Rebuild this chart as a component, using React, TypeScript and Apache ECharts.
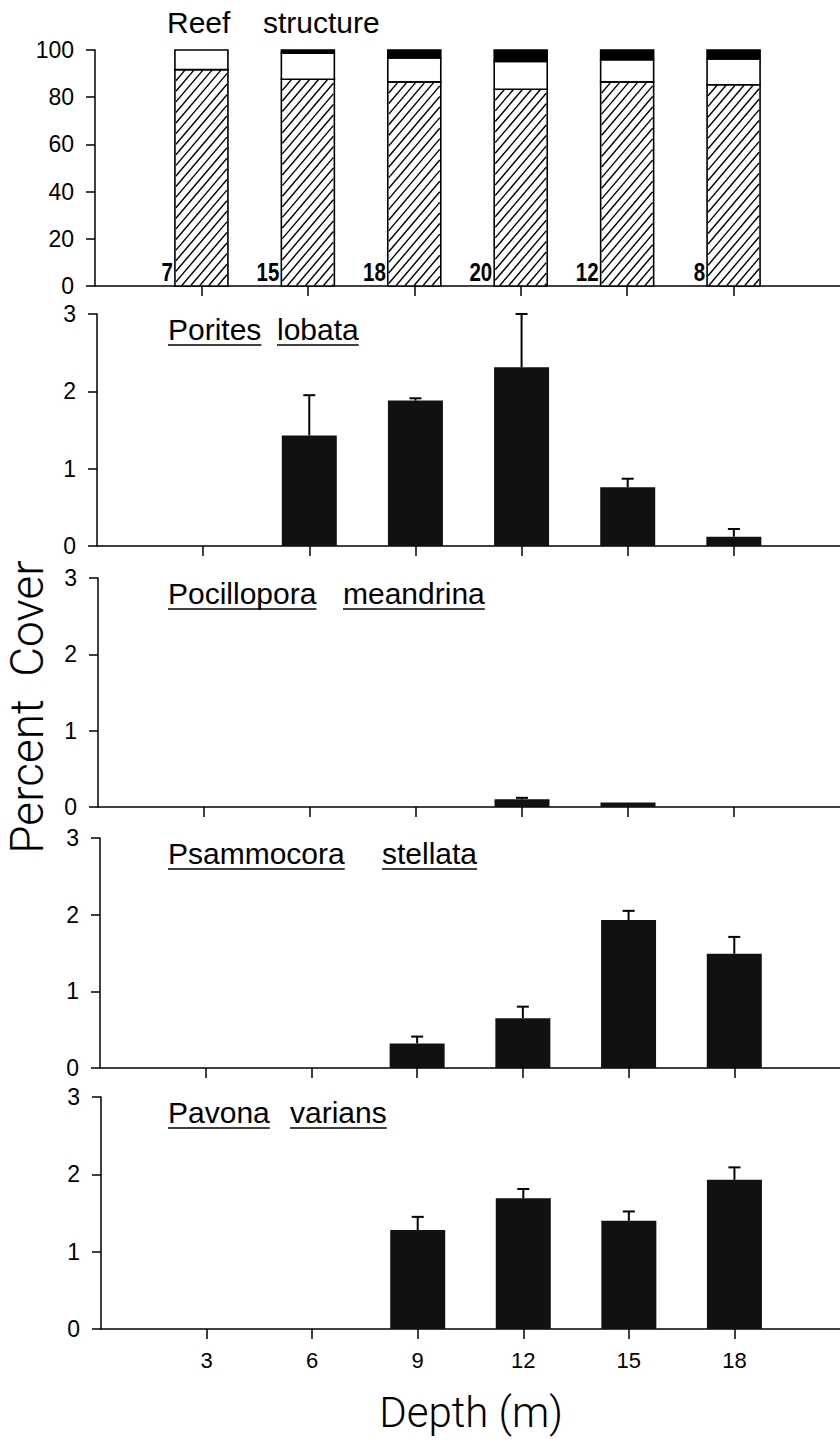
import React, { useEffect, useRef } from "react";
import * as echarts from "echarts";

// ---------- data ----------
const depths = [3, 6, 9, 12, 15, 18];
const depthTicks = [3, 6, 9, 12, 15, 18];

// Reef structure (% of transect): hatched / white / black segments
const reefHatched = [91.7, 87.6, 86.5, 83.4, 86.5, 85.3];
const reefWhite = [8.3, 11.0, 10.1, 11.7, 9.4, 10.9];
const reefBlack = [0, 1.4, 3.4, 4.9, 4.1, 3.8];
const reefN = [7, 15, 18, 20, 12, 8];

// species percent cover, mean and standard error
const poritesMean = [0, 1.43, 1.88, 2.31, 0.76, 0.12];
const poritesSE = [0, 0.52, 0.03, 0.69, 0.11, 0.1];
const pocilloporaMean = [0, 0, 0, 0.1, 0.06, 0];
const pocilloporaSE = [0, 0, 0, 0.02, 0, 0];
const psammocoraMean = [0, 0, 0.32, 0.65, 1.93, 1.49];
const psammocoraSE = [0, 0, 0.09, 0.15, 0.12, 0.22];
const pavonaMean = [0, 0, 1.28, 1.69, 1.4, 1.93];
const pavonaSE = [0, 0, 0.17, 0.12, 0.12, 0.16];

const speciesTitles = [
  ["Porites", "lobata"],
  ["Pocillopora", "meandrina"],
  ["Psammocora", "stellata"],
  ["Pavona", "varians"],
];
const reefTitle = ["Reef", "structure"];
const yAxisTitle = "Percent  Cover";
const xAxisTitle = "Depth (m)";

// ---------- layout ----------
const W = 840;
const H = 1445;
const PANELS = [
  { top: 50, bottom: 286, left: 95 },
  { top: 314, bottom: 546, left: 97 },
  { top: 578, bottom: 807, left: 98 },
  { top: 838, bottom: 1068, left: 100 },
  { top: 1097, bottom: 1329, left: 101 },
];
const TITLE_X1 = 168;
const TITLE_X2 = [277, 343, 382, 290];
const FONT = '"Liberation Sans", Arial, Helvetica, sans-serif';
const TITLE_FS = 30;
const REEF_BAR_W = 53;
const SPECIES_BAR_W = 55;

function measure(text: string, font: string): number {
  const c = document.createElement("canvas");
  const ctx = c.getContext("2d");
  if (!ctx) return text.length * 15;
  ctx.font = font;
  return ctx.measureText(text).width;
}

export default function App() {
  const ref = useRef<HTMLDivElement>(null);

  useEffect(() => {
    document.body.style.margin = "0";
    document.body.style.overflow = "hidden";
    if (!ref.current) return;
    const chart = echarts.init(ref.current, undefined, { renderer: "svg" });

    const grids = PANELS.map((p) => ({
      left: p.left,
      top: p.top,
      width: W - p.left,
      height: p.bottom - p.top,
      containLabel: false,
      outerBoundsMode: "none",
    }));

    const axisLine = { show: true, onZero: false, lineStyle: { color: "#000", width: 1.5 } };

    const xAxes = PANELS.map((_, i) => ({
      gridIndex: i,
      type: "value",
      min: 0,
      max: 21,
      interval: 3,
      axisLine,
      axisTick: {
        show: true,
        inside: false,
        length: 10,
        customValues: depthTicks,
        lineStyle: { color: "#000", width: 1.5 },
      },
      axisLabel: {
        show: i === 4,
        customValues: depthTicks,
        margin: 20,
        color: "#000",
        fontSize: 22,
        fontFamily: FONT,
      },
      splitLine: { show: false },
    }));

    const yAxes = PANELS.map((_, i) => ({
      gridIndex: i,
      type: "value",
      min: 0,
      max: i === 0 ? 100 : 3,
      interval: i === 0 ? 20 : 1,
      axisLine,
      axisTick: { show: true, inside: false, length: 9, lineStyle: { color: "#000", width: 1.5 } },
      axisLabel: { margin: 21, color: "#000", fontSize: 23, fontFamily: FONT },
      splitLine: { show: false },
    }));

    const series: any[] = [];

    // Reef structure: stacked segments drawn through the axis scales
    series.push({
      type: "custom",
      xAxisIndex: 0,
      yAxisIndex: 0,
      silent: true,
      z: 3,
      data: depths.map((d, i) => [d, reefHatched[i], reefWhite[i], reefBlack[i]]),
      encode: { x: 0, y: 1 },
      renderItem: (params: any, api: any) => {
        const x = api.value(0);
        const vh = api.value(1);
        const vw = api.value(2);
        const vb = api.value(3);
        const p0 = api.coord([x, 0]);
        const p1 = api.coord([x, vh]);
        const p2 = api.coord([x, vh + vw]);
        const p3 = api.coord([x, vh + vw + vb]);
        const half = REEF_BAR_W / 2;
        const left = p0[0] - half;
        const children: any[] = [];
        children.push({
          type: "rect",
          shape: { x: left, y: p1[1], width: REEF_BAR_W, height: p0[1] - p1[1] },
          style: { fill: "#fff", stroke: "none" },
        });
        // hatching
        const x0 = left + 1;
        const x1 = left + REEF_BAR_W - 1;
        const yb = p0[1] - 0.5;
        const h = yb - (p1[1] + 0.5);
        const t = 0.85;
        const sp = 9;
        for (let c = x0 - h * t; c < x1; c += sp) {
          const u0 = Math.max(0, (x0 - c) / t);
          const u1 = Math.min(h, (x1 - c) / t);
          if (u1 > u0) {
            children.push({
              type: "line",
              shape: { x1: c + u0 * t, y1: yb - u0, x2: c + u1 * t, y2: yb - u1 },
              style: { stroke: "#000", lineWidth: 1.4 },
            });
          }
        }
        children.push({
          type: "rect",
          shape: { x: left, y: p1[1], width: REEF_BAR_W, height: p0[1] - p1[1] },
          style: { fill: "none", stroke: "#000", lineWidth: 1.6 },
        });
        children.push({
          type: "rect",
          shape: { x: left, y: p2[1], width: REEF_BAR_W, height: p1[1] - p2[1] },
          style: { fill: "#fff", stroke: "#000", lineWidth: 1.6 },
        });
        if (vb > 0) {
          children.push({
            type: "rect",
            shape: { x: left, y: p3[1], width: REEF_BAR_W, height: p2[1] - p3[1] },
            style: { fill: "#000", stroke: "#000", lineWidth: 1.6 },
          });
        }
        return { type: "group", children };
      },
    });
    // sample sizes
    series.push({
      type: "custom",
      xAxisIndex: 0,
      yAxisIndex: 0,
      silent: true,
      z: 4,
      data: depths.map((d, i) => [d, reefN[i]]),
      renderItem: (params: any, api: any) => {
        const x = api.value(0);
        const n = api.value(1);
        const p = api.coord([x, 0]);
        return {
          type: "text",
          x: p[0] - REEF_BAR_W / 2 - 2,
          y: p[1] - 1,
          scaleX: 0.82,
          style: {
            text: String(n),
            x: 0,
            y: 0,
            align: "right",
            verticalAlign: "bottom",
            fontSize: 25,
            fontWeight: "bold",
            fontFamily: FONT,
            fill: "#000",
          },
        };
      },
    });

    const species = [
      [poritesMean, poritesSE],
      [pocilloporaMean, pocilloporaSE],
      [psammocoraMean, psammocoraSE],
      [pavonaMean, pavonaSE],
    ];
    species.forEach(([mean, se], k) => {
      const gi = k + 1;
      series.push({
        type: "bar",
        xAxisIndex: gi,
        yAxisIndex: gi,
        barWidth: SPECIES_BAR_W,
        silent: true,
        data: depths.map((d, i) => [d, mean[i]]),
        itemStyle: { color: "#111" },
      });
      series.push({
        type: "custom",
        xAxisIndex: gi,
        yAxisIndex: gi,
        silent: true,
        z: 4,
        data: depths
          .map((d, i) => [d, mean[i], mean[i] + se[i], se[i]])
          .filter((r) => r[3] > 0),
        encode: { x: 0, y: [1, 2] },
        renderItem: (params: any, api: any) => {
          const x = api.value(0);
          const lo = api.coord([x, api.value(1)]);
          const hi = api.coord([x, api.value(2)]);
          const st = { stroke: "#000", lineWidth: 2 };
          return {
            type: "group",
            children: [
              { type: "line", shape: { x1: lo[0], y1: lo[1], x2: hi[0], y2: hi[1] }, style: st },
              { type: "line", shape: { x1: hi[0] - 6, y1: hi[1], x2: hi[0] + 6, y2: hi[1] }, style: st },
            ],
          };
        },
      });
    });

    // titles
    const titleFont = `${TITLE_FS}px ${FONT}`;
    const graphics: any[] = [];
    const mid = (baseline: number) => baseline - 0.35 * TITLE_FS;
    graphics.push({
      type: "text",
      x: 167,
      y: mid(33),
      style: { text: reefTitle[0], fontSize: TITLE_FS, fontFamily: FONT, fill: "#000", align: "left", verticalAlign: "middle" },
    });
    graphics.push({
      type: "text",
      x: 263,
      y: mid(33),
      style: { text: reefTitle[1], fontSize: TITLE_FS, fontFamily: FONT, fill: "#000", align: "left", verticalAlign: "middle" },
    });
    speciesTitles.forEach((words, k) => {
      const p = PANELS[k + 1];
      const baseline = p.top + 26;
      const ul = p.top + 31;
      const xs = [TITLE_X1, TITLE_X2[k]];
      words.forEach((w, j) => {
        const wd = measure(w, titleFont);
        graphics.push({
          type: "text",
          x: xs[j],
          y: mid(baseline),
          style: { text: w, fontSize: TITLE_FS, fontFamily: FONT, fill: "#000", align: "left", verticalAlign: "middle" },
        });
        graphics.push({
          type: "line",
          shape: { x1: xs[j], y1: ul, x2: xs[j] + wd, y2: ul },
          style: { stroke: "#000", lineWidth: 1.5 },
        });
      });
    });
    graphics.push({
      type: "text",
      x: 27,
      y: 707,
      rotation: Math.PI / 2,
      style: {
        text: yAxisTitle,
        fontSize: 46,
        lineHeight: 46,
        fontWeight: 300,
        fontFamily: '"Roboto", ' + FONT,
        fill: "#000",
        align: "center",
        verticalAlign: "middle",
      },
    });
    graphics.push({
      type: "text",
      x: 471,
      y: 1412,
      style: {
        text: xAxisTitle,
        fontSize: 42,
        fontWeight: 300,
        fontFamily: '"Roboto", ' + FONT,
        fill: "#000",
        align: "center",
        verticalAlign: "middle",
      },
    });

    chart.setOption({
      animation: false,
      backgroundColor: "#fff",
      grid: grids,
      xAxis: xAxes,
      yAxis: yAxes,
      series,
      graphic: { elements: graphics },
    });

    return () => {
      chart.dispose();
    };
  }, []);

  return <div ref={ref} style={{ width: W, height: H }} />;
}
